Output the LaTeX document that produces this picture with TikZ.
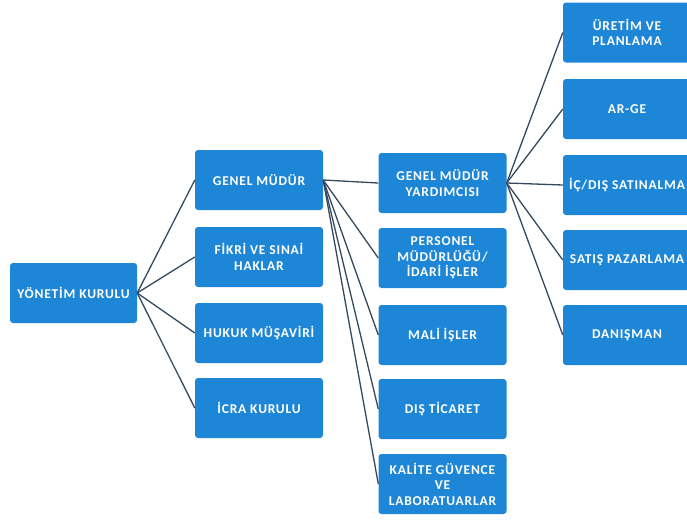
\documentclass[tikz,border=0pt]{standalone}
\usepackage{fontspec}
\setmainfont{Carlito}
\newfontfamily\boxfont[LetterSpace=6]{Carlito Bold}
\definecolor{boxblue}{HTML}{1E86D6}
\definecolor{linecol}{HTML}{34495E}
\tikzset{
  orgbox/.style={fill=boxblue, rounded corners=3pt, minimum width=128pt, minimum height=60pt,
    text=white, font=\boxfont\fontsize{13.5}{15.5}\selectfont, align=center, inner sep=0pt},
  link/.style={draw=linecol, line width=1.3pt}
}
\begin{document}
\begin{tikzpicture}[x=1pt,y=-1pt]
\useasboundingbox (0,0) rectangle (687,522);
\begin{scope}
\clip (0,0) rectangle (687,522);
\node[orgbox, minimum width=127pt] (yk) at (73.5,293) {YÖNETİM KURULU};
\node[orgbox] (gm) at (259,180) {GENEL MÜDÜR};
\node[orgbox] (fs) at (259,257) {FİKRİ VE SINAİ\\HAKLAR};
\node[orgbox] (hm) at (259,333) {HUKUK MÜŞAVİRİ};
\node[orgbox] (ik) at (259,408) {İCRA KURULU};
\node[orgbox] (gmy) at (442.5,183) {GENEL MÜDÜR\\YARDIMCISI};
\node[orgbox] (pm) at (442.5,258) {PERSONEL\\MÜDÜRLÜĞÜ/\\İDARİ İŞLER};
\node[orgbox] (mi) at (442.5,335) {MALİ İŞLER};
\node[orgbox] (dt) at (442.5,409) {DIŞ TİCARET};
\node[orgbox] (kg) at (442.5,484) {KALİTE GÜVENCE\\VE\\LABORATUARLAR};
\node[orgbox] (up) at (627,32.5) {ÜRETİM VE\\PLANLAMA};
\node[orgbox] (ag) at (627,109) {AR-GE};
\node[orgbox] (is) at (627,185) {İÇ/DIŞ SATINALMA};
\node[orgbox] (sp) at (627,260) {SATIŞ PAZARLAMA};
\node[orgbox] (dn) at (627,335) {DANIŞMAN};
\end{scope}
\foreach \t in {gm,fs,hm,ik} \draw[link] (yk.east) -- (\t.west);
\foreach \t in {gmy,pm,mi,dt,kg} \draw[link] (gm.east) -- (\t.west);
\foreach \t in {up,ag,is,sp,dn} \draw[link] (gmy.east) -- (\t.west);
\end{tikzpicture}
\end{document}
